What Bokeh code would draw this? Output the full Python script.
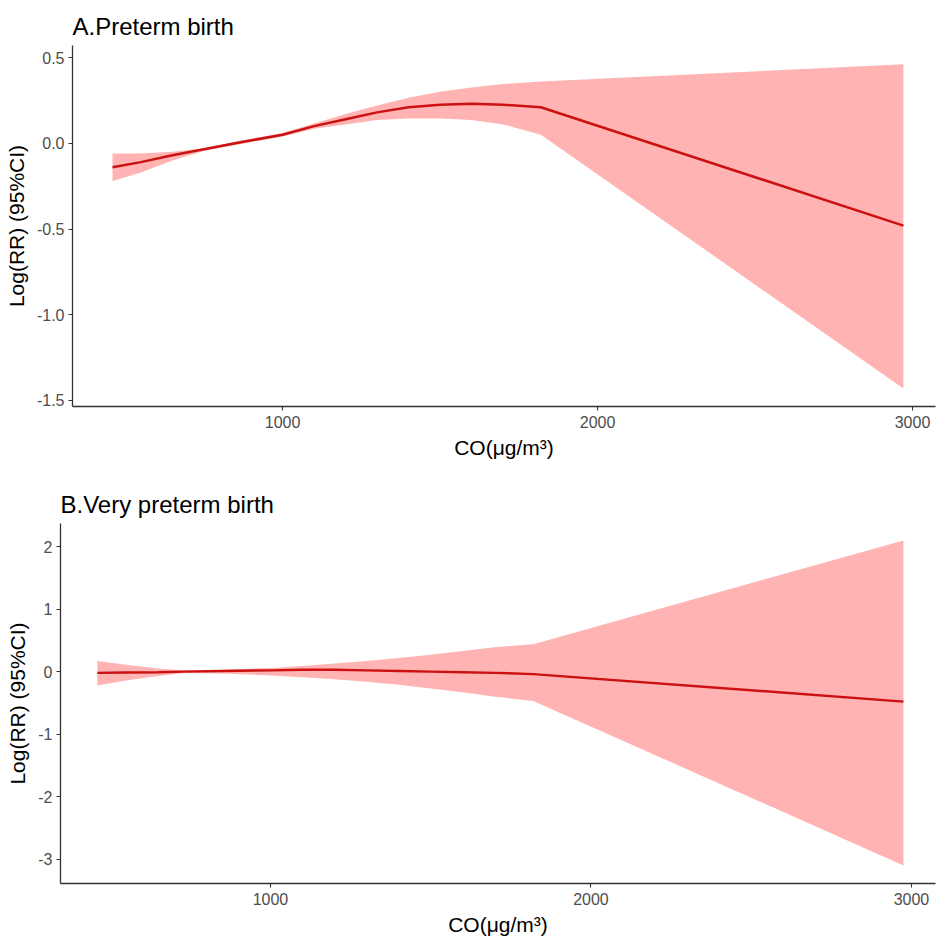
from bokeh.plotting import figure
from bokeh.layouts import column, row
from bokeh.models import Range1d, FixedTicker, PrintfTickFormatter, ColumnDataSource
from bokeh.embed import file_html
from bokeh.resources import INLINE

# Panel A: Preterm birth
a_x = [460, 550, 650, 750, 850, 1000, 1100, 1200, 1300, 1400, 1500, 1600, 1700, 1820, 2971]
a_fit = [-0.14, -0.11, -0.07, -0.035, 0.0, 0.05, 0.10, 0.14, 0.18, 0.21, 0.225, 0.23, 0.225, 0.21, -0.48]
a_upper = [-0.06, -0.06, -0.05, -0.03, 0.01, 0.06, 0.115, 0.17, 0.22, 0.265, 0.30, 0.325, 0.345, 0.36, 0.46]
a_lower = [-0.22, -0.17, -0.10, -0.045, -0.01, 0.04, 0.085, 0.11, 0.135, 0.145, 0.145, 0.135, 0.11, 0.05, -1.43]
a_yticks = [-1.5, -1.0, -0.5, 0.0, 0.5]

# Panel B: Very preterm birth
b_x = [460, 550, 650, 730, 850, 1000, 1100, 1200, 1300, 1400, 1500, 1600, 1700, 1820, 2975]
b_fit = [-0.02, -0.015, -0.01, 0.0, 0.01, 0.02, 0.03, 0.03, 0.02, 0.01, 0.0, -0.01, -0.02, -0.04, -0.48]
b_upper = [0.17, 0.11, 0.05, 0.02, 0.03, 0.06, 0.09, 0.13, 0.17, 0.22, 0.27, 0.33, 0.39, 0.44, 2.1]
b_lower = [-0.22, -0.14, -0.07, -0.02, -0.03, -0.06, -0.09, -0.12, -0.16, -0.21, -0.27, -0.33, -0.40, -0.47, -3.1]
b_yticks = [-3, -2, -1, 0, 1, 2]

x_ticks = [1000, 2000, 3000]

FONT = "Liberation Sans"
BAND = "#FFB3B3"
LINE = "#CC1111"


def make_panel(title, xs, fit, upper, lower, yticks, fmt, xr, yr, height, b_top, b_bottom, b_left):
    p = figure(width=937, height=height, output_backend="svg", toolbar_location=None,
               x_range=Range1d(*xr), y_range=Range1d(*yr),
               min_border_top=b_top, min_border_bottom=b_bottom,
               min_border_left=b_left, min_border_right=2)
    src = ColumnDataSource(dict(x=xs, fit=fit, upper=upper, lower=lower))
    p.varea(x="x", y1="lower", y2="upper", source=src, fill_color=BAND, fill_alpha=1.0)
    p.line(x="x", y="fit", source=src, line_color=LINE, line_width=2.5)

    p.title.text = title
    p.title.text_font = FONT
    p.title.text_font_size = "24px"
    p.title.text_font_style = "normal"
    p.title.text_color = "#000000"
    p.title.align = "left"
    p.title.standoff = 12

    p.grid.visible = False
    p.outline_line_color = None
    p.background_fill_color = "white"
    p.border_fill_color = "white"

    for ax in (p.xaxis, p.yaxis):
        ax.axis_line_color = "#333333"
        ax.axis_line_width = 1.3
        ax.major_tick_line_color = "#333333"
        ax.major_tick_line_width = 1.1
        ax.major_tick_in = 0
        ax.major_tick_out = 4
        ax.minor_tick_line_color = None
        ax.major_label_text_font = FONT
        ax.major_label_text_font_size = "16px"
        ax.major_label_text_color = "#4D4D4D"
        ax.axis_label_text_font = FONT
        ax.axis_label_text_font_size = "21px"
        ax.axis_label_text_font_style = "normal"
        ax.axis_label_text_color = "#000000"

    p.xaxis.ticker = FixedTicker(ticks=x_ticks)
    p.yaxis.ticker = FixedTicker(ticks=yticks)
    p.yaxis.formatter = PrintfTickFormatter(format=fmt)
    p.xaxis.axis_label = "CO(μg/m³)"
    p.yaxis.axis_label = "Log(RR) (95%CI)"
    p.xaxis.axis_label_standoff = 5
    p.yaxis.axis_label_standoff = 6
    p.xaxis.major_label_standoff = 5
    p.yaxis.major_label_standoff = 4
    return p


pa = make_panel("A.Preterm birth", a_x, a_fit, a_upper, a_lower, a_yticks, "%.1f",
                (333, 3073), (-1.535, 0.57), 470, 45, 64, 72)
pb = make_panel("B.Very preterm birth", b_x, b_fit, b_upper, b_lower, b_yticks, "%d",
                (345, 3075), (-3.39, 2.37), 475, 53, 62, 60)

layout = column(row(pa), row(pb), spacing=0)
open("out.html", "w").write(file_html(layout, INLINE))
